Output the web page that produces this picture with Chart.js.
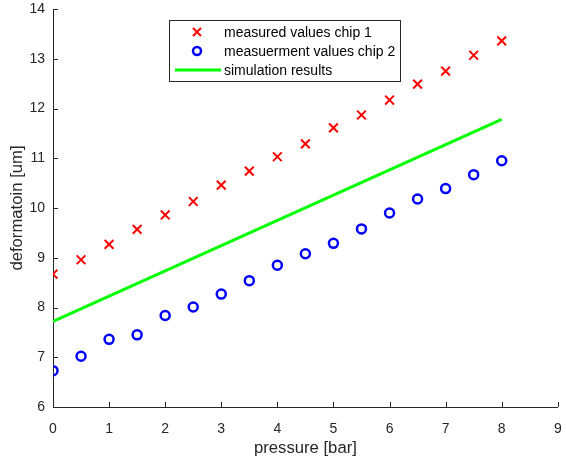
<!DOCTYPE html>
<html><head><meta charset="utf-8">
<script src="https://cdn.jsdelivr.net/npm/chart.js@4/dist/chart.umd.min.js"></script>
<style>html,body{margin:0;padding:0;background:#fff}#wrap{width:566px;height:466px;position:relative}</style>
</head><body><div id="wrap"><canvas id="c" width="566" height="466"></canvas></div>
<script>
const pressure = [0,0.5,1,1.5,2,2.5,3,3.5,4,4.5,5,5.5,6,6.5,7,7.5,8];
const chip1 = [8.67,8.96,9.27,9.57,9.86,10.13,10.46,10.74,11.03,11.29,11.61,11.87,12.17,12.49,12.75,13.07,13.36];
const chip2 = [6.73,7.02,7.36,7.45,7.84,8.01,8.27,8.54,8.85,9.08,9.29,9.58,9.90,10.18,10.39,10.67,10.95];
const simPressure = [0,8];
const simValues = [7.72,11.78];
const xTicks = [0,1,2,3,4,5,6,7,8,9];
const yTicks = [6,7,8,9,10,11,12,13,14];
const labels = ['measured values chip 1','measuerment values chip 2','simulation results'];

const FONT = '"Liberation Sans", Arial, sans-serif';
const AX = '#262626';

const toXY = (xs, ys) => xs.map((x,i)=>({x:x,y:ys[i]}));

const inwardTicks = {
  id:'inwardTicks',
  afterDraw(chart){
    const ctx = chart.ctx, xs = chart.scales.x, ys = chart.scales.y, a = chart.chartArea;
    ctx.save(); ctx.strokeStyle = AX; ctx.lineWidth = 1;
    xTicks.forEach(v=>{const p=Math.round(xs.getPixelForValue(v))+0.5;ctx.beginPath();ctx.moveTo(p,a.bottom);ctx.lineTo(p,a.bottom-5);ctx.stroke();});
    yTicks.forEach(v=>{const p=Math.round(ys.getPixelForValue(v))+0.5;ctx.beginPath();ctx.moveTo(a.left,p);ctx.lineTo(a.left+5,p);ctx.stroke();});
    // legend
    const lx=169.5, ly=20.5, lw=231, lh=61;
    ctx.fillStyle='#fff'; ctx.fillRect(lx,ly,lw,lh);
    ctx.strokeStyle='#262626'; ctx.lineWidth=1; ctx.strokeRect(lx,ly,lw,lh);
    ctx.font='14px '+FONT; ctx.fillStyle='#000'; ctx.textBaseline='middle'; ctx.textAlign='left';
    const rows=[32,51,70];
    ctx.strokeStyle='#ff0000'; ctx.lineWidth=2;
    ctx.beginPath(); ctx.moveTo(193,rows[0]-4); ctx.lineTo(201,rows[0]+4); ctx.moveTo(201,rows[0]-4); ctx.lineTo(193,rows[0]+4); ctx.stroke();
    ctx.strokeStyle='#0000ff'; ctx.lineWidth=2.5;
    ctx.beginPath(); ctx.arc(197,rows[1],4,0,Math.PI*2); ctx.stroke();
    ctx.strokeStyle='#00ff00'; ctx.lineWidth=3;
    ctx.beginPath(); ctx.moveTo(175,rows[2]); ctx.lineTo(221,rows[2]); ctx.stroke();
    labels.forEach((t,i)=>ctx.fillText(t,224,rows[i]+1));
    ctx.restore();
  }
};

new Chart(document.getElementById('c'),{
  type:'scatter',
  data:{datasets:[
    {label:labels[0],data:toXY(pressure,chip1),pointStyle:'crossRot',radius:6.2,borderColor:'#ff0000',borderWidth:2,showLine:false},
    {label:labels[1],data:toXY(pressure,chip2),pointStyle:'circle',radius:4.5,borderColor:'#0000ff',backgroundColor:'rgba(0,0,0,0)',borderWidth:2.5,showLine:false},
    {label:labels[2],data:toXY(simPressure,simValues),showLine:true,borderColor:'#00ff00',borderWidth:3,pointRadius:0,order:1}
  ]},
  options:{
    responsive:false,animation:false,
    layout:{padding:{left:0,top:9,right:7,bottom:0}},
    plugins:{legend:{display:false},tooltip:{enabled:false}},
    scales:{
      x:{type:'linear',min:0,max:9,
        afterBuildTicks(s){s.ticks=xTicks.map(v=>({value:v}));},
        afterFit(s){s.height=59;s.paddingRight=0;s.paddingLeft=0;},
        grid:{display:false,drawTicks:false},
        border:{display:true,color:AX,width:1},
        ticks:{color:AX,font:{family:FONT,size:14},padding:14,maxRotation:0},
        title:{display:true,text:'pressure [bar]',color:AX,font:{family:FONT,size:16.7},padding:{top:0,bottom:8}}
      },
      y:{type:'linear',min:6,max:14,
        afterBuildTicks(s){s.ticks=yTicks.map(v=>({value:v}));},
        afterFit(s){s.width=53;s.paddingTop=0;s.paddingBottom=0;},
        grid:{display:false,drawTicks:false},
        border:{display:true,color:AX,width:1},
        ticks:{color:AX,font:{family:FONT,size:14},padding:8},
        title:{display:true,text:'deformatoin [um]',color:AX,font:{family:FONT,size:16.7},padding:{top:7,bottom:0}}
      }
    }
  },
  plugins:[inwardTicks]
});
</script></body></html>
